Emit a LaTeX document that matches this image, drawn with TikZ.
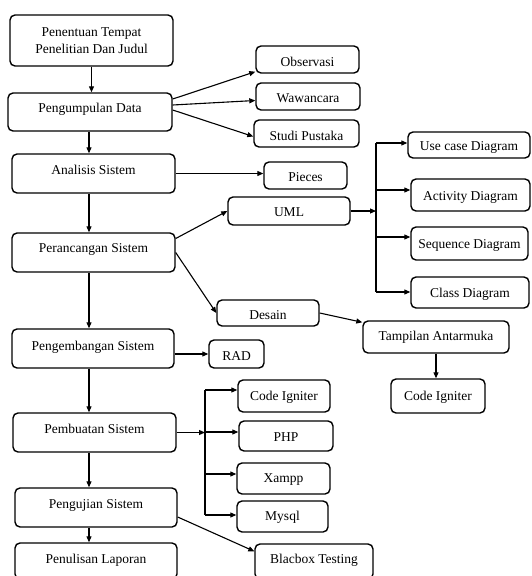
\documentclass[tikz,border=0pt]{standalone}
\usepackage{fontspec}
\setmainfont{Liberation Serif}
\usetikzlibrary{arrows.meta,calc}
\tikzset{
  box/.style={draw, line width=1.4pt, rounded corners=5pt, inner sep=0pt,
    font=\fontsize{13.5}{17}\selectfont, align=center},
  arr/.style={line width=1.1pt, -{Triangle[length=6pt,width=5pt]}},
  ln/.style={line width=1.1pt},
}
% #1 = lift of the text, #2 name, #3 left, #4 top, #5 right, #6 bottom, #7 text
\newcommand\mybox[7][0pt]{%
  \node[box, minimum width={(#5-#3)*1pt}, minimum height={(#6-#4)*1pt}]
    (#2) at ({(#3+#5)/2},{(#4+#6)/2}) {\raisebox{#1}[\height][\depth]{#7}};}
\begin{document}
\begin{tikzpicture}[x=1pt,y=-1pt]
\useasboundingbox (0,0) rectangle (531,576);
\clip (0,0) rectangle (531,576);
% main column
\node[box, minimum width=163pt, minimum height=51pt] (t1) at (91.5,40.5)
  {Penentuan Tempat\\Penelitian Dan Judul};
\mybox[3pt]{t2}{8}{93}{172}{131}{Pengumpulan Data}
\mybox[4pt]{t3}{12}{154}{175}{193}{Analisis Sistem}
\mybox[3pt]{t4}{12}{233}{175}{272}{Perancangan Sistem}
\mybox[1pt]{t5}{12}{329}{174}{368}{Pengembangan Sistem}
\mybox[4pt]{t6}{13}{413}{176}{452}{Pembuatan Sistem}
\mybox[2pt]{t7}{15}{488}{177}{527}{Pengujian Sistem}
\mybox[1pt]{t8}{15}{543}{177}{579}{Penulisan Laporan}
% side boxes
\mybox[-2pt]{obs}{256}{46}{359}{73}{Observasi}
\mybox[-2pt]{waw}{256}{83}{360}{110}{Wawancara}
\mybox[-2pt]{stu}{254}{120}{359}{147}{Studi Pustaka}
\mybox[-1.5pt]{pie}{264}{162}{347}{189}{Pieces}
\mybox[-1pt]{uml}{228}{197}{350}{225}{UML}
\mybox[-2pt]{des}{217}{300}{319}{326}{Desain}
\mybox[-2pt]{rad}{209}{340}{264}{368}{RAD}
\mybox[-2pt]{use}{408}{132}{530}{158}{Use case Diagram}
\mybox[-2pt]{act}{411}{179}{530}{211}{Activity Diagram}
\mybox[-2pt]{seq}{411}{227}{528}{260}{Sequence Diagram}
\mybox[-2pt]{cls}{411}{277}{529}{308}{Class Diagram}
\mybox{tam}{363}{321}{509}{353}{Tampilan Antarmuka}
\mybox[-1pt]{ciB}{391}{379}{485}{413}{Code Igniter}
\mybox[-1pt]{ciA}{238}{380}{330}{412}{Code Igniter}
\mybox[-1pt]{php}{239}{421}{333}{451}{PHP}
\mybox[-1pt]{xam}{237}{463}{330}{494}{Xampp}
\mybox[-1pt]{mys}{237}{501}{328}{532}{Mysql}
\mybox[1pt]{bb}{255}{544}{373}{579}{Blacbox Testing}
% spine
\coordinate (sp) at (89,0);
\draw[arr] (t1.south) -- (t1.south |- t2.north);
\draw[arr] (sp |- t2.south) -- (sp |- t3.north);
\draw[arr] (sp |- t3.south) -- (sp |- t4.north);
\draw[arr] (sp |- t4.south) -- (sp |- t5.north);
\draw[arr] (sp |- t5.south) -- (sp |- t6.north);
\draw[arr] (sp |- t6.south) -- (sp |- t7.north);
\draw[arr] (sp |- t7.south) -- (sp |- t8.north);
% pengumpulan data
\draw[arr] ([yshift=13pt]t2.east) -- ([yshift=2pt]obs.south west);
\draw[arr] ([yshift=7pt]t2.east) -- ([yshift=-4pt]waw.west);
\draw[arr] ([yshift=2pt]t2.east) -- ([yshift=-3pt]stu.west);
% analisis
\draw[arr] (t3.east) -- (t3.east -| pie.west);
% perancangan
\draw[arr] ([yshift=14pt]t4.east) -- (uml.west);
\draw[arr] (t4.east) -- (des.west);
% UML tree
\coordinate (u0) at (376,143);
\coordinate (u1) at (376,190);
\coordinate (u2) at (376,237);
\coordinate (u3) at (376,292);
\draw[ln] (u0) -- (u3);
\draw[arr] (uml.east) -- (uml.east -| u0);
\draw[arr] (u0) -- (u0 -| use.west);
\draw[arr] (u1) -- (u1 -| act.west);
\draw[arr] (u2) -- (u2 -| seq.west);
\draw[arr] (u3) -- (u3 -| cls.west);
% desain
\draw[arr] (des.east) -- ([yshift=-2pt]tam.north west);
\draw[arr] (tam.south) -- (tam.south |- ciB.north);
% pengembangan
\draw[arr] (rad.west -| t5.east) -- (rad.west);
% pembuatan tree
\coordinate (p0) at (205,390);
\coordinate (p1) at (205,432);
\coordinate (p2) at (205,474);
\coordinate (p3) at (205,515);
\draw[ln] (p0) -- (p3);
\draw[arr] (t6.east) -- (t6.east -| p1);
\draw[arr] (p0) -- (p0 -| ciA.west);
\draw[arr] (p1) -- (p1 -| php.west);
\draw[arr] (p2) -- (p2 -| xam.west);
\draw[arr] (p3) -- (p3 -| mys.west);
% pengujian
\draw[arr] ([yshift=-9.5pt]t7.east) -- ([yshift=-8pt]bb.north west);
\end{tikzpicture}
\end{document}
